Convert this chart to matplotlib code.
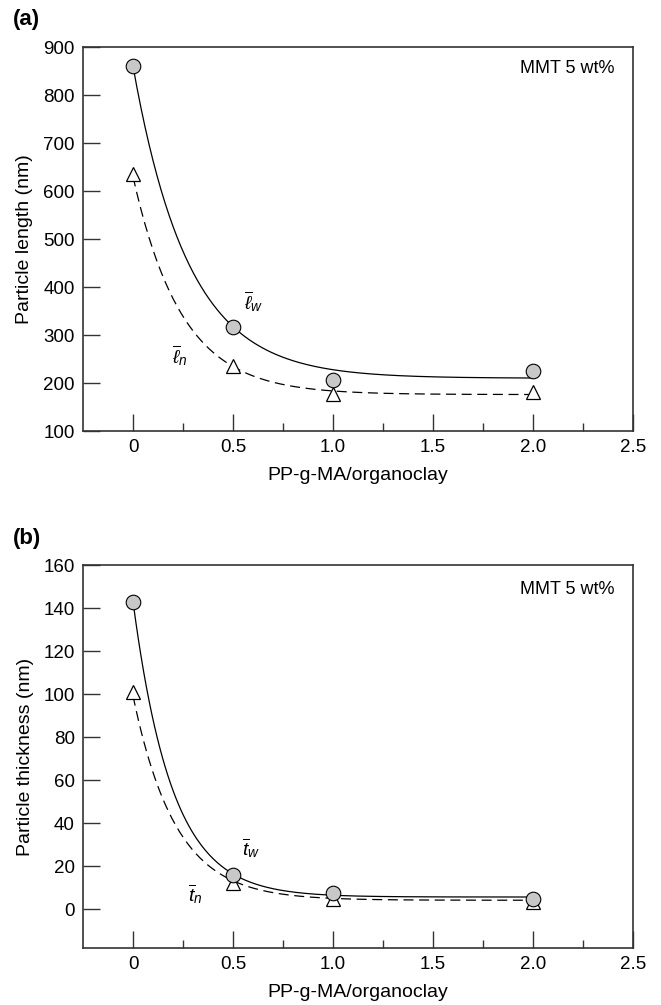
import numpy as np
import matplotlib
matplotlib.use("Agg")
import matplotlib.pyplot as plt

plt.rcParams['font.family'] = ['Liberation Sans', 'DejaVu Sans']
plt.rcParams['mathtext.fontset'] = 'custom'
plt.rcParams['mathtext.rm'] = 'Liberation Sans'
plt.rcParams['mathtext.it'] = 'Liberation Sans:italic'

# PP-g-MA / organoclay ratio
ratio = [0, 0.5, 1.0, 2.0]

# (a) particle length, nm
length_w = [860, 317, 207, 225]
length_n = [635, 235, 177, 182]
# (b) particle thickness, nm
thick_w = [143, 16, 7.5, 4.6]
thick_n = [101, 12, 5, 3.5]

# exponential decay fits y = A*exp(-k*x) + c
fit_length_w = (650, 3.6, 210)
fit_length_n = (454, 4.1, 176)
fit_thick_w = (137.3, 5.1, 5.7)
fit_thick_n = (95, 4.7, 4.2)

xticks = [0, 0.5, 1.0, 1.5, 2.0, 2.5]
xticklabels = ['0', '0.5', '1.0', '1.5', '2.0', '2.5']


def decay(x, p):
    A, k, c = p
    return A * np.exp(-k * x) + c


def draw_panel(ax, yw, yn, pw, pn, ylim, yticks, ylabel):
    xs = np.linspace(0, 2, 300)
    ax.plot(xs, decay(xs, pw), color='black', lw=0.9, zorder=2)
    ax.plot(xs, decay(xs, pn), color='black', lw=0.9, dashes=(8, 4.5), zorder=2)
    ax.plot(ratio, yn, linestyle='none', marker='^', ms=10, mfc='white',
            mec='black', mew=0.9, zorder=3)
    ax.plot(ratio, yw, linestyle='none', marker='o', ms=10.5, mfc='#c8c8c8',
            mec='black', mew=0.8, zorder=4)
    ax.set_xlim(-0.25, 2.5)
    ax.set_ylim(*ylim)
    ax.set_xticks(xticks)
    ax.set_xticklabels(xticklabels)
    ax.set_xticks([0.25, 0.75, 1.25, 1.75, 2.25], minor=True)
    ax.set_yticks(yticks)
    ax.tick_params(axis='both', which='major', direction='in', length=12,
                   width=1.0, color='#333333', labelsize=13.5, pad=6)
    ax.tick_params(axis='x', which='minor', direction='in', length=6,
                   width=1.0, color='#333333')
    ax.tick_params(top=False, right=False)
    for s in ax.spines.values():
        s.set_color('#333333')
        s.set_linewidth(1.2)
    ax.set_xlabel('PP-g-MA/organoclay', fontsize=14, labelpad=8)
    ax.set_ylabel(ylabel, fontsize=14, labelpad=7)


fig = plt.figure(figsize=(6.61, 10.05), dpi=100)
ax1 = fig.add_axes([0.1256, 0.5711, 0.832, 0.3821])
ax2 = fig.add_axes([0.1256, 0.0567, 0.832, 0.3811])

draw_panel(ax1, length_w, length_n, fit_length_w, fit_length_n,
           (100, 900), range(100, 901, 100), 'Particle length (nm)')
draw_panel(ax2, thick_w, thick_n, fit_thick_w, fit_thick_n,
           (-18, 160), range(0, 161, 20), 'Particle thickness (nm)')

ax1.text(0.604, 369, r'$\overline{\ell}_w$', fontsize=14, ha='center', va='center')
ax1.text(0.235, 258, r'$\overline{\ell}_n$', fontsize=14, ha='center', va='center')
ax2.text(0.59, 28.4, r'$\overline{t}_w$', fontsize=14, ha='center', va='center')
ax2.text(0.31, 7.0, r'$\overline{t}_n$', fontsize=14, ha='center', va='center')

for ax, yy in ((ax1, 0.945), (ax2, 0.937)):
    ax.text(0.967, yy, 'MMT 5 wt%', transform=ax.transAxes, fontsize=13,
            ha='right', va='center')

fig.text(13 / 661, 1 - 20 / 1005, '(a)', fontsize=16, fontweight='bold',
         ha='left', va='center')
fig.text(13 / 661, 1 - 538 / 1005, '(b)', fontsize=16, fontweight='bold',
         ha='left', va='center')

fig.savefig('out.png', dpi=100)
